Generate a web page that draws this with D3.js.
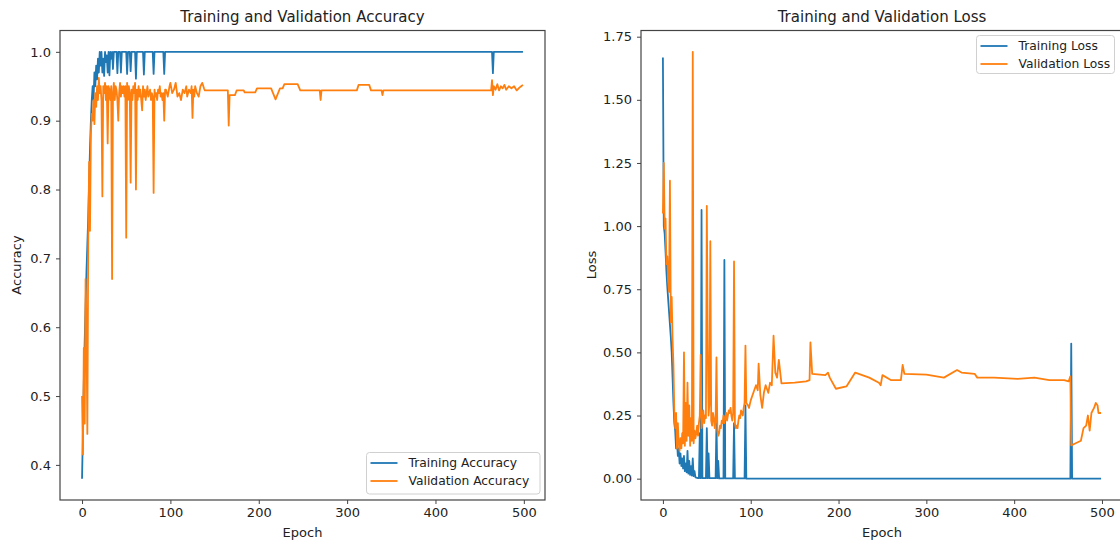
<!DOCTYPE html>
<html><head><meta charset="utf-8">
<script src="https://cdn.jsdelivr.net/npm/d3@7"></script>
<style>
html,body{margin:0;padding:0;background:#fff;}
svg text{font-family:"DejaVu Sans",sans-serif;fill:#222;}
</style></head>
<body><svg id="c" width="1120" height="546"></svg>
<script>
// ---------- data: [epoch, value] key points ----------
const trainAcc = [[0,0.38],[1,0.45],[2,0.52],[3,0.58],[4,0.63],[5,0.68],[6,0.72],[7,0.76],[8,0.81],[9,0.86],[10,0.9],[11,0.93],[12,0.95],[13,0.93],[14,0.97],[15,0.95],[16,0.98],[17,0.96],[18,0.99],[19,0.97],[20,1.0],[21,0.98],[22,1.0],[23,0.97],[24,0.99],[25,0.965],[26,1.0],[27,0.985],[28,0.995],[29,0.97],[30,1.0],[31,0.966],[32,1.0],[33,0.99],[34,1.0],[35,0.975],[36,1.0],[39,1.0],[40,0.969],[41,1.0],[43,1.0],[44,0.97],[45,1.0],[50,1.0],[51,0.968],[52,1.0],[54,1.0],[55,0.972],[56,1.0],[60,1.0],[61,0.961],[62,1.0],[69,1.0],[70,0.967],[71,1.0],[80,1.0],[81,0.968],[82,1.0],[92,1.0],[93,0.968],[94,1.0],[464,1.0],[465,0.969],[466,1.0],[499,1.0]];
const valAcc = [[0,0.5],[1,0.415],[2,0.57],[3,0.46],[4,0.67],[5,0.6],[6,0.445],[7,0.72],[8,0.84],[9,0.74],[10,0.88],[11,0.91],[12,0.9],[13,0.93],[14,0.895],[15,0.94],[16,0.92],[17,0.95],[18,0.93],[19,0.962],[20,0.94],[21,0.95],[22,0.93],[23,0.79],[24,0.95],[25,0.94],[26,0.955],[27,0.93],[28,0.95],[29,0.867],[30,0.95],[31,0.945],[32,0.93],[33,0.95],[34,0.67],[35,0.94],[36,0.955],[37,0.93],[38,0.95],[39,0.945],[40,0.93],[41,0.9],[42,0.94],[43,0.955],[44,0.935],[45,0.95],[46,0.94],[47,0.95],[48,0.935],[49,0.95],[50,0.73],[51,0.955],[52,0.93],[53,0.95],[54,0.94],[55,0.81],[56,0.945],[57,0.93],[58,0.95],[59,0.94],[60,0.955],[61,0.8],[62,0.945],[63,0.93],[64,0.95],[65,0.935],[66,0.945],[67,0.93],[68,0.915],[69,0.95],[70,0.935],[71,0.945],[72,0.93],[73,0.94],[74,0.95],[75,0.935],[76,0.94],[77,0.945],[78,0.93],[79,0.94],[80,0.935],[81,0.795],[82,0.945],[83,0.935],[84,0.94],[85,0.93],[86,0.945],[87,0.94],[88,0.95],[89,0.935],[90,0.94],[91,0.93],[92,0.94],[93,0.9],[94,0.945],[95,0.945],[97,0.935],[99,0.95],[100,0.955],[102,0.94],[104,0.945],[106,0.955],[108,0.935],[110,0.94],[112,0.93],[114,0.945],[116,0.94],[118,0.95],[119,0.935],[121,0.945],[123,0.94],[124,0.95],[125,0.904],[126,0.945],[127,0.935],[128,0.95],[130,0.94],[132,0.935],[134,0.95],[136,0.955],[138,0.947],[139,0.944],[165,0.944],[166,0.893],[167,0.937],[173,0.937],[175,0.944],[183,0.944],[184,0.941],[196,0.941],[198,0.947],[214,0.947],[219,0.931],[224,0.947],[227,0.947],[229,0.953],[244,0.953],[247,0.944],[269,0.944],[270,0.93],[271,0.944],[311,0.944],[313,0.952],[325,0.952],[327,0.944],[339,0.944],[340,0.937],[341,0.944],[463,0.944],[464,0.959],[465,0.937],[466,0.95],[468,0.945],[470,0.953],[472,0.944],[474,0.95],[476,0.947],[478,0.952],[480,0.945],[483,0.95],[486,0.947],[489,0.95],[492,0.944],[495,0.948],[497,0.95],[499,0.952]];
const trainLoss = [[0,1.668],[1,1.0],[2,0.97],[3,0.9],[4,0.82],[5,0.76],[6,0.71],[7,0.66],[8,0.61],[9,0.56],[10,0.5],[11,0.4],[12,0.3],[13,0.22],[14,0.19],[15,0.12],[16,0.15],[17,0.09],[18,0.12],[19,0.06],[20,0.1],[21,0.05],[22,0.08],[23,0.04],[24,0.09],[25,0.03],[26,0.06],[27,0.025],[28,0.11],[29,0.02],[30,0.07],[31,0.015],[32,0.05],[33,0.012],[34,0.08],[35,0.01],[36,0.03],[37,0.006],[38,0.004],[40,0.002],[41,0.002],[42,0.18],[43,0.002],[44,1.064],[45,0.002],[49,0.002],[50,0.2],[51,0.002],[52,0.1],[53,0.002],[60,0.002],[61,0.22],[62,0.002],[63,0.07],[64,0.001],[69,0.001],[70,0.866],[71,0.001],[80,0.001],[81,0.22],[82,0.001],[93,0.001],[94,0.29],[95,0.0],[464,0.0],[465,0.535],[466,0.0],[499,0.0]];
const valLoss = [[0,1.05],[1,1.25],[2,0.99],[3,1.03],[4,0.85],[5,0.88],[6,0.78],[7,0.74],[8,1.18],[9,0.62],[10,0.72],[11,0.55],[12,0.45],[13,0.26],[14,0.2],[15,0.26],[16,0.12],[17,0.22],[18,0.14],[19,0.11],[20,0.16],[21,0.12],[22,0.18],[23,0.14],[24,0.5],[25,0.13],[26,0.3],[27,0.15],[28,0.38],[29,0.17],[30,0.29],[31,0.13],[32,0.24],[33,0.15],[34,1.69],[35,0.14],[36,0.19],[37,0.16],[38,0.18],[39,0.21],[40,0.17],[41,0.22],[42,0.25],[43,0.49],[44,0.2],[45,0.23],[46,0.27],[47,0.22],[48,0.25],[49,0.24],[50,1.08],[51,0.55],[52,0.25],[53,0.3],[54,0.94],[55,0.23],[56,0.21],[57,0.26],[58,0.24],[59,0.2],[60,0.23],[61,0.48],[62,0.19],[63,0.17],[64,0.18],[65,0.21],[66,0.2],[67,0.23],[68,0.22],[69,0.25],[70,0.22],[71,0.24],[72,0.26],[73,0.23],[74,0.25],[75,0.27],[76,0.26],[77,0.28],[78,0.25],[79,0.23],[80,0.26],[81,0.86],[82,0.22],[83,0.2],[84,0.21],[85,0.2],[86,0.23],[87,0.25],[88,0.24],[89,0.27],[90,0.26],[91,0.25],[92,0.28],[93,0.3],[94,0.527],[95,0.3],[97,0.29],[98,0.28],[100,0.31],[103,0.34],[106,0.37],[108,0.35],[109,0.455],[111,0.33],[113,0.28],[115,0.34],[117,0.37],[118,0.36],[120,0.34],[122,0.38],[124,0.37],[126,0.566],[128,0.42],[130,0.4],[132,0.47],[135,0.377],[150,0.38],[163,0.385],[167,0.39],[168,0.54],[170,0.415],[185,0.41],[188,0.42],[190,0.4],[197,0.356],[209,0.365],[219,0.42],[235,0.4],[246,0.38],[248,0.37],[250,0.41],[260,0.39],[271,0.39],[273,0.45],[275,0.415],[300,0.412],[320,0.4],[335,0.43],[340,0.42],[355,0.415],[358,0.4],[377,0.4],[404,0.395],[423,0.4],[440,0.39],[457,0.39],[462,0.385],[464,0.405],[465,0.132],[470,0.14],[476,0.15],[479,0.2],[482,0.21],[484,0.25],[486,0.19],[488,0.26],[491,0.28],[493,0.3],[495,0.29],[496,0.26],[499,0.26]];
const xTicks = [0,100,200,300,400,500];
const accTicks = [0.4,0.5,0.6,0.7,0.8,0.9,1.0];
const lossTicks = [0,0.25,0.5,0.75,1.0,1.25,1.5,1.75];
const titles = ["Training and Validation Accuracy","Training and Validation Loss"];
const yLabels = ["Accuracy","Loss"];
const accLegend = ["Training Accuracy","Validation Accuracy"];
const lossLegend = ["Training Loss","Validation Loss"];
const BLUE = "#1f77b4", ORANGE = "#ff7f0e";

const svg = d3.select("#c");

function panel(o){
  const g = svg.append("g");
  const x = d3.scaleLinear().domain([-24.95,523.95]).range([o.left,o.right]);
  const y = d3.scaleLinear().domain(o.yDomain).range([o.bottom,o.top]);
  const clipId = "clip"+o.id;
  svg.append("clipPath").attr("id",clipId).append("rect")
    .attr("x",o.left).attr("y",o.top).attr("width",o.right-o.left).attr("height",o.bottom-o.top);
  const line = d3.line().x(d=>x(d[0])).y(d=>y(d[1]));
  const lg = g.append("g").attr("clip-path",`url(#${clipId})`);
  lg.append("path").datum(o.s1).attr("d",line).attr("fill","none").attr("stroke",BLUE).attr("stroke-width",1.8).attr("stroke-linejoin","round");
  lg.append("path").datum(o.s2).attr("d",line).attr("fill","none").attr("stroke",ORANGE).attr("stroke-width",1.8).attr("stroke-linejoin","round");
  // frame
  g.append("rect").attr("x",o.left).attr("y",o.top).attr("width",o.right-o.left).attr("height",o.bottom-o.top)
    .attr("fill","none").attr("stroke","#444").attr("stroke-width",1.2);
  // axes
  const xa = g.append("g").attr("transform",`translate(0,${o.bottom})`)
    .call(d3.axisBottom(x).tickValues(xTicks).tickSize(4).tickPadding(4).tickFormat(d3.format("d")));
  const ya = g.append("g").attr("transform",`translate(${o.left},0)`)
    .call(d3.axisLeft(y).tickValues(o.yTicks).tickSize(4).tickPadding(5).tickFormat(o.fmt));
  [xa,ya].forEach(a=>{
    a.select(".domain").remove();
    a.selectAll(".tick line").attr("stroke","#444");
    a.selectAll(".tick text").style("font-family","DejaVu Sans").style("font-size","13px").attr("fill","#2a2a2a");
  });
  g.append("text").attr("x",(o.left+o.right)/2).attr("y",21.5).attr("text-anchor","middle")
    .style("font-size","15px").text(o.title);
  g.append("text").attr("x",(o.left+o.right)/2).attr("y",537).attr("text-anchor","middle")
    .style("font-size","13px").text("Epoch");
  g.append("text").attr("transform",`translate(${o.ylx},${o.yly}) rotate(-90)`).attr("text-anchor","middle")
    .style("font-size","13px").text(o.ylabel);
  // legend
  const L = o.legend;
  const lgd = g.append("g");
  lgd.append("rect").attr("x",L.x).attr("y",L.y).attr("width",L.w).attr("height",L.h).attr("rx",3)
    .attr("fill","#fff").attr("fill-opacity",0.85).attr("stroke","#d0d0d0");
  o.labels.forEach((t,i)=>{
    const yy = L.y + 10.5 + i*18;
    lgd.append("line").attr("x1",L.x+4).attr("x2",L.x+31).attr("y1",yy).attr("y2",yy)
      .attr("stroke",i?ORANGE:BLUE).attr("stroke-width",1.8);
    lgd.append("text").attr("x",L.x+42).attr("y",yy+4.3).style("font-size","12.3px").attr("fill","#2a2a2a").text(t);
  });
}

panel({id:"a",left:60,right:545,top:30.5,bottom:500,yDomain:[0.349,1.031],yTicks:accTicks,fmt:d3.format(".1f"),
  s1:trainAcc,s2:valAcc,title:titles[0],ylabel:yLabels[0],ylx:21,yly:265,labels:accLegend,
  legend:{x:366.5,y:452.5,w:173.5,h:41.5}});
panel({id:"b",left:641,right:1123,top:30.5,bottom:500,yDomain:[-0.0845,1.7745],yTicks:lossTicks,fmt:d3.format(".2f"),
  s1:trainLoss,s2:valLoss,title:titles[1],ylabel:yLabels[1],ylx:596,yly:265,labels:lossLegend,
  legend:{x:976.5,y:35.5,w:138,h:38}});
</script></body></html>
